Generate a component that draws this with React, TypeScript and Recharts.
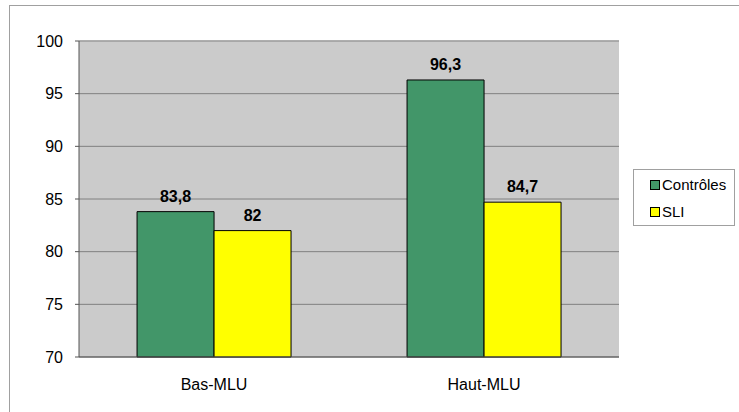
import React from "react";
import { BarChart, Bar, XAxis, YAxis, CartesianGrid, LabelList, ReferenceLine } from "recharts";

const categories = ["Bas-MLU", "Haut-MLU"];
const controles = [83.8, 96.3];
const sli = [82, 84.7];
const yTicks = [70, 75, 80, 85, 90, 95, 100];
const boundaryTicks = [0, 1, 2];
const seriesNames = ["Contrôles", "SLI"];
const seriesColors = ["#429669", "#FFFF00"];

const data = categories.map((c, i) => ({ name: c, controles: controles[i], sli: sli[i] }));

const FONT = "'Liberation Sans', Arial, sans-serif";

const fmt = (v: any) => String(v).replace(".", ",");

const LegendBox = () => (
  <div
    style={{
      position: "absolute",
      left: 633,
      top: 169,
      width: 100,
      height: 55,
      border: "1px solid #A0A0A0",
      background: "#fff",
      fontFamily: FONT,
      fontSize: 15,
      color: "#000",
    }}
  >
    {seriesNames.map((n, i) => (
      <div key={n} style={{ display: "flex", alignItems: "center", height: 27, paddingLeft: 16, marginTop: i === 0 ? 1 : 0 }}>
        <span
          style={{
            display: "inline-block",
            width: 8,
            height: 8,
            background: seriesColors[i],
            border: "1px solid #000",
            marginRight: 2,
          }}
        />
        <span>{n}</span>
      </div>
    ))}
  </div>
);

export default function App() {
  return (
    <div style={{ position: "absolute", left: 0, top: 0, width: 739, height: 412, overflow: "hidden", background: "#fff" }}>
      <div
        style={{
          position: "absolute",
          left: 9,
          top: 5,
          width: 760,
          height: 430,
          borderLeft: "1px solid #A0A0A0",
          borderTop: "1px solid #A0A0A0",
        }}
      />
      <div style={{ position: "absolute", left: 0, top: 0 }}>
        <BarChart
          width={739}
          height={412}
          data={data}
          margin={{ top: 41, right: 120, bottom: 25, left: 9 }}
          barGap={0}
          barCategoryGap="21.5%"
        >
          <CartesianGrid xAxisId="cat" vertical={false} stroke="#808080" strokeWidth={1} fill="#CBCBCB" fillOpacity={1} />
          <XAxis
            xAxisId="b"
            type="number"
            domain={[0, 2]}
            ticks={boundaryTicks}
            height={0}
            tickSize={5}
            tickLine={{ stroke: "#666" }}
            axisLine={false}
            tickFormatter={() => ""}
            allowDataOverflow
          />
          <XAxis
            xAxisId="cat"
            dataKey="name"
            height={30}
            tickLine={false}
            axisLine={{ stroke: "#555" }}
            tickMargin={16}
            tick={{ fill: "#000", fontSize: 16, fontFamily: FONT }}
          />
          <YAxis
            width={70}
            domain={[70, 100]}
            ticks={yTicks}
            tickSize={4}
            tickMargin={12}
            tickLine={{ stroke: "#555" }}
            axisLine={{ stroke: "#555" }}
            tick={{ fill: "#000", fontSize: 16, fontFamily: FONT }}
          />
          <ReferenceLine xAxisId="b" x={2} stroke="#999" strokeWidth={2} />
          <ReferenceLine xAxisId="cat" y={100} stroke="#A8A8A8" strokeWidth={1.5} />
          <Bar xAxisId="cat" dataKey="controles" name={seriesNames[0]} fill={seriesColors[0]} stroke="#000" strokeWidth={1} isAnimationActive={false}>
            <LabelList dataKey="controles" position="top" offset={10} formatter={fmt} style={{ fontFamily: FONT, fontSize: 16, fontWeight: "bold", fill: "#000" }} />
          </Bar>
          <Bar xAxisId="cat" dataKey="sli" name={seriesNames[1]} fill={seriesColors[1]} stroke="#000" strokeWidth={1} isAnimationActive={false}>
            <LabelList dataKey="sli" position="top" offset={10} formatter={fmt} style={{ fontFamily: FONT, fontSize: 16, fontWeight: "bold", fill: "#000" }} />
          </Bar>
        </BarChart>
      </div>
      <LegendBox />
    </div>
  );
}
